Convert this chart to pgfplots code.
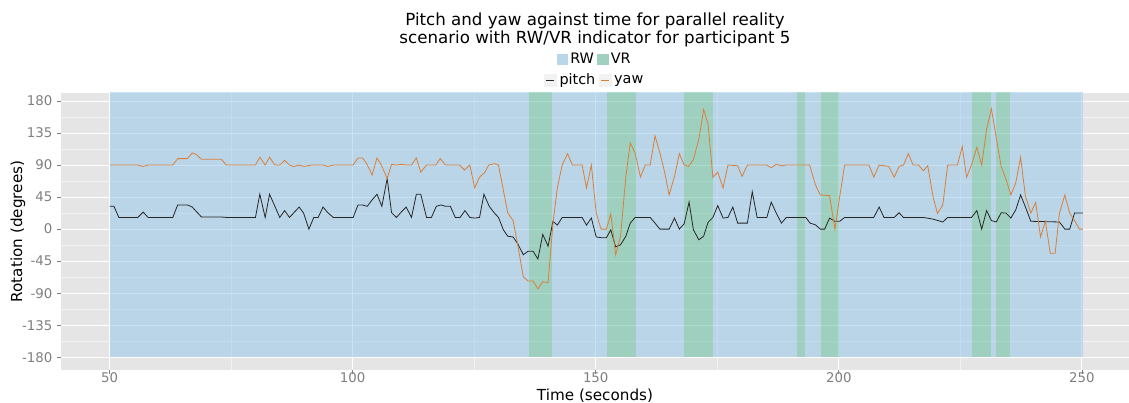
\documentclass[border=0pt]{standalone}
\usepackage{fontspec}
\setmainfont{DejaVu Sans}
\usepackage{pgfplots}
\usepackage{pgfplotstable}
\pgfplotsset{compat=1.18}

\definecolor{panel}{HTML}{E5E5E5}
\definecolor{rwfill}{RGB}{145,199,235}
\definecolor{vrfill}{RGB}{91,189,155}
\definecolor{rwkey}{HTML}{BBD6E8}
\definecolor{vrkey}{HTML}{A0D1C0}
\definecolor{yawcol}{HTML}{DA7F3A}
\definecolor{tickgray}{HTML}{7F7F7F}
\definecolor{minorgrid}{HTML}{F2F2F2}

% pitch, degrees
\pgfplotstableread{
t v
50 32
50.9 32
51.9 16.4
55.8 16.4
56.9 24
57.9 16.4
63 16.4
64 34
66 34
67 31
67.8 25
68.9 17
73 17
74 16.4
80 16.4
80.9 49
82 16.4
82.9 49
84 32
85 16.4
86 26
87 16.4
87.9 23
89 31
89.9 22.5
91 0
92 16.4
92.9 16.4
93.9 31
94.9 23
96 16.4
100.1 16.4
101.1 34
102 34
103 32
104 41
105 49
106 32
107.1 71
108 23
109 16.4
110 24
111 31
112.1 16.4
113.1 49
114 49
115.2 16.4
116.2 16.4
117.2 32
118.2 34
119.1 32
120.1 32
121.1 16.4
122.1 16.4
123.1 26
124.1 16.4
125.1 15.5
126.1 16.4
127 49
128.1 32
129.1 23
130 16.4
131 -1
131.9 -10
133 -11
134 -21
135.1 -36
136.1 -31
137.1 -31
138.1 -42
139.1 -7.5
140.2 -24
141.2 11
142.1 5.6
143.1 16.4
147.2 16.4
148.1 5.6
149.1 15.5
150.1 -11
151.1 -12
152.2 -12
153.1 -1
154.1 -25
155.1 -22
156.2 -10
157.1 8.4
158.1 16.4
161.2 16.4
162.2 8.4
163.2 0
165.1 0
166.2 15.5
167.2 0
168.2 7.5
169.2 38
170.1 -1
171.2 -15
172.2 -10
173.1 9.4
174.1 16.4
175.1 33
176.2 15.5
177.2 16.4
178.2 31
179.2 8.4
181.2 8.4
182.2 52.5
183.2 16.4
185.2 16.4
186.1 38
187.1 23
188.2 8.4
189.2 16.4
193.2 16.4
194.1 8.4
195.2 6
196.2 0
197.1 0
198.1 15.5
199.2 11
200.2 11
201.2 16.4
207.2 16.4
208.3 31
209.3 16.4
211.4 16.4
212.4 23
213.3 16.4
217.4 16.4
219.4 14
221.4 10
222.4 16.4
227.3 16.4
228.4 26
229.4 0
230.4 26
231.4 12
232.4 10
233.4 23
234.4 22.5
235.4 15.5
236.4 27
237.4 48
238.4 31
239.5 11
245.4 10
246.5 0
247.5 0
248.5 22.5
250.2 22.5
}\pitchdata

% yaw, degrees
\pgfplotstableread{
t v
50 90
55.8 90
56.9 88
57.9 90
63 90
64 99
66 99
67 107
67.8 105
68.9 98
73 98
74 90
80 90
80.9 101
82 90
82.9 101
84 90
85 90
86 96.5
87 90
87.9 88
89 90
90 88
91.5 90
93.9 90
94.9 88
96 90
100.1 90
101.1 100
102 100
102.8 93
104 76
105 100
105.9 90
107.1 71
108 91
109 90
110 91
111 90
112.1 90
113.1 100
114 80
115.2 90
117.1 90
118 99
119.1 90
122 90
123 83
124.1 90
125.1 58
126.1 73
127.2 80
128 90
129.2 92
130 90
130.9 58
131.9 23
133 12
134 -24
135.1 -67
136.1 -73
137.1 -73
138.1 -84
139.1 -74
140.2 -75
141.2 8
142.1 58
143.1 90
144.2 106
145.2 90
147.2 90
148.1 58
149.1 90
150.1 22.5
151.1 0
152.2 0
153.1 21.5
154.1 -36
155.1 -10
156.2 74
157.1 121
158.1 107
159.2 73
160.2 90
161.2 90
162.2 131
163.2 107
164.2 79
165.1 48
166.2 74
167.2 106
168.2 90
169.1 88
170.1 98
171.2 126
172.2 168
173.1 148
174.1 73
175.1 80
176.2 58
177.2 90
179.2 89
180.1 74
181.2 90
185.2 90
186.1 86
187.1 91
188.2 89
189.2 90
194 90
195.2 62
196.2 48
198.1 47
199.2 0
200.2 46
201.2 90
206.2 90
207.2 73
208.3 90
210.3 88
211.4 73
212.4 88
213.3 90
214.3 106
215.3 90
216.4 90
217.4 82
218.3 89
219.4 45
220.3 22
221.4 34
222.4 90
224.4 90
225.4 116
226.3 73
227.3 90
228.4 115
229.4 90
230.4 140
231.4 169
232.4 128
233.4 88
234.4 70
235.4 48
236.4 65
237.4 101
238.4 46
239.5 22.5
240.5 37.5
241.5 -11
242.5 11
243.5 -34
244.5 -34
245.4 22.5
246.5 48
247.5 22.5
248.5 12
249.5 0
250.2 0
}\yawdata

\begin{document}
\begin{tikzpicture}
\begin{axis}[
  at={(0,0)}, anchor=south west,
  scale only axis, width=801pt, height=207.75pt,
  xmin=40, xmax=259.7, ymin=-197.9, ymax=191.2,
  axis background/.style={fill=panel},
  axis line style={draw=none},
  xtick={50,100,...,250}, ytick={-180,-135,...,180},
  minor x tick num=1, minor y tick num=1,
  grid=both,
  major grid style={white, line width=0.7pt},
  minor grid style={minorgrid, line width=0.4pt},
  tick pos=left, tick align=outside,
  major tick length=3pt, minor tick length=0pt,
  tick style={tickgray, line width=0.5pt},
  ticklabel style={font=\fontsize{10}{12}\selectfont, text=tickgray},
  xticklabel style={yshift=2pt, inner sep=1pt},
  /pgf/number format/assume math mode=true,
  xlabel={Time (seconds)}, ylabel={Rotation (degrees)},
  label style={font=\fontsize{11.4}{13}\selectfont},
  xlabel style={at={(axis description cs:0.5,-0.092)}, anchor=center, inner sep=1pt},
  ylabel style={at={(axis description cs:-0.0403,0.5)}, anchor=center},
  title={Pitch and yaw against time for parallel reality\\scenario with RW/VR indicator for participant 5},
  title style={at={(axis description cs:0.5,1.1985)}, anchor=center, align=center,
    font=\fontsize{12.5}{13.5}\selectfont},
  legend columns=2,
  legend style={at={(0.5,1.046)}, anchor=center, draw=none, fill=none,
    font=\fontsize{10.8}{12}\selectfont, inner sep=0pt,
    /tikz/every even column/.append style={column sep=0.5pt}},
  legend image code/.code={
    \fill[minorgrid] (0pt,-4.5pt) rectangle (9pt,4.5pt);
    \draw[#1] (1.5pt,0pt) -- (7.5pt,0pt);},
]
% RW periods
\addplot[draw=none, fill=rwfill, fill opacity=0.5, forget plot] coordinates {(50,-180) (136.2,-180) (136.2,200) (50,200)};
\addplot[draw=none, fill=rwfill, fill opacity=0.5, forget plot] coordinates {(141.1,-180) (152.3,-180) (152.3,200) (141.1,200)};
\addplot[draw=none, fill=rwfill, fill opacity=0.5, forget plot] coordinates {(158.2,-180) (168.1,-180) (168.1,200) (158.2,200)};
\addplot[draw=none, fill=rwfill, fill opacity=0.5, forget plot] coordinates {(174.2,-180) (191.3,-180) (191.3,200) (174.2,200)};
\addplot[draw=none, fill=rwfill, fill opacity=0.5, forget plot] coordinates {(193.1,-180) (196.3,-180) (196.3,200) (193.1,200)};
\addplot[draw=none, fill=rwfill, fill opacity=0.5, forget plot] coordinates {(200.1,-180) (227.4,-180) (227.4,200) (200.1,200)};
\addplot[draw=none, fill=rwfill, fill opacity=0.5, forget plot] coordinates {(231.3,-180) (232.3,-180) (232.3,200) (231.3,200)};
\addplot[draw=none, fill=rwfill, fill opacity=0.5, forget plot] coordinates {(235.3,-180) (250.2,-180) (250.2,200) (235.3,200)};
% VR periods
\addplot[draw=none, fill=vrfill, fill opacity=0.5, forget plot] coordinates {(136.2,-180) (141.1,-180) (141.1,200) (136.2,200)};
\addplot[draw=none, fill=vrfill, fill opacity=0.5, forget plot] coordinates {(152.3,-180) (158.2,-180) (158.2,200) (152.3,200)};
\addplot[draw=none, fill=vrfill, fill opacity=0.5, forget plot] coordinates {(168.1,-180) (174.2,-180) (174.2,200) (168.1,200)};
\addplot[draw=none, fill=vrfill, fill opacity=0.5, forget plot] coordinates {(191.3,-180) (193.1,-180) (193.1,200) (191.3,200)};
\addplot[draw=none, fill=vrfill, fill opacity=0.5, forget plot] coordinates {(196.3,-180) (200.1,-180) (200.1,200) (196.3,200)};
\addplot[draw=none, fill=vrfill, fill opacity=0.5, forget plot] coordinates {(227.4,-180) (231.3,-180) (231.3,200) (227.4,200)};
\addplot[draw=none, fill=vrfill, fill opacity=0.5, forget plot] coordinates {(232.3,-180) (235.3,-180) (235.3,200) (232.3,200)};

\addplot[black!85, line width=0.6pt] table[x=t, y=v] {\pitchdata};
\addlegendentry{pitch}
\addplot[yawcol, line width=0.6pt] table[x=t, y=v] {\yawdata};
\addlegendentry{yaw}
\end{axis}

% first legend row: RW / VR
\begin{axis}[
  at={(0,0)}, anchor=south west,
  scale only axis, width=801pt, height=207.75pt,
  hide axis, xmin=0, xmax=1, ymin=0, ymax=1,
  legend columns=2,
  legend style={at={(0.5,1.1227)}, anchor=center, draw=none, fill=none,
    font=\fontsize{10.8}{12}\selectfont, inner sep=0pt,
    /tikz/every even column/.append style={column sep=0.5pt}},
  legend image code/.code={\fill[#1] (0pt,-3.9pt) rectangle (7.8pt,3.9pt);},
]
\addlegendimage{rwkey}
\addlegendentry{RW}
\addlegendimage{vrkey}
\addlegendentry{VR}
\end{axis}
\pgfresetboundingbox
\useasboundingbox (-45.75pt,-24.75pt) rectangle (801pt,277.5pt);
\end{tikzpicture}
\end{document}
